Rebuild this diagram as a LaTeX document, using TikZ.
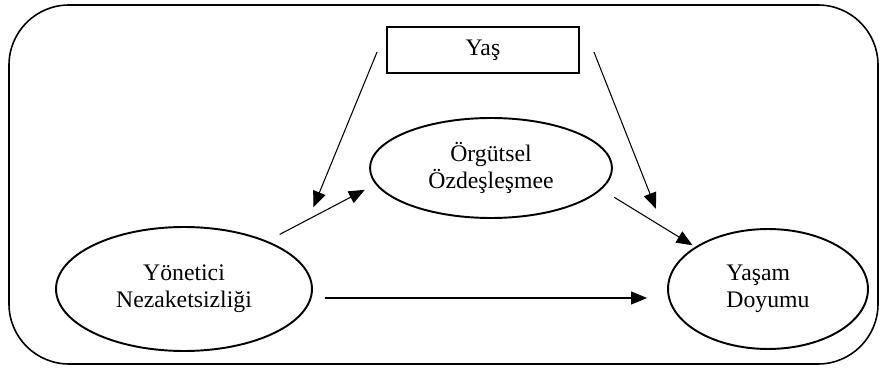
\documentclass[tikz,border=0pt]{standalone}
\usepackage{fontspec}
\setmainfont{Liberation Serif}
\usetikzlibrary{arrows.meta,positioning,shapes.geometric}

\begin{document}
\begin{tikzpicture}[x=0.02cm,y=0.02cm,
  latent/.style={ellipse,draw,line width=1.1pt,inner sep=0pt,align=center,font=\fontsize{13.5}{15.5}\selectfont},
  obsbox/.style={rectangle,draw,line width=1.1pt,inner sep=0pt,font=\fontsize{13.5}{15.5}\selectfont},
  arr/.style={-{Triangle[length=0.32cm,width=0.26cm]},line width=0.6pt}]
\useasboundingbox (0,0) rectangle (880,369);
% Outer frame
\draw[line width=0.9pt,rounded corners=1.2cm] (9,5) rectangle (878,364);
% Moderator
\node[obsbox,minimum width=3.84cm,minimum height=0.92cm] (yas) at (483,319) {Yaş};
% Latent variables
\node[latent,minimum width=4.84cm,minimum height=2.0cm] (orgut) at (491,201) {Örgütsel\\Özdeşleşmee};
\node[latent,minimum width=5.12cm,minimum height=2.48cm] (yonetici) at (184,80) {Yönetici\\Nezaketsizliği};
\node[latent,minimum width=4.0cm,minimum height=2.4cm,align=left] (yasam) at (768,80) {Yaşam\\Doyumu};
% Paths
\draw[arr,shorten <=0.28cm,shorten >=0.24cm] (yonetici.30) -- coordinate[pos=0.38] (mod1) (orgut.188);
\draw[arr,shorten <=0.3cm,shorten >=0.06cm] (orgut.-11) -- coordinate[pos=0.66] (mod2) (yasam.150);
\draw[arr,shorten <=0.24cm,shorten >=0.4cm] ([yshift=-0.18cm]yonetici.east) -- ([yshift=-0.18cm]yasam.west);
% Moderation arrows
\draw[arr,shorten >=0.26cm] ([xshift=-0.18cm,yshift=-0.04cm]yas.west) -- (mod1);
\draw[arr,shorten >=0.4cm] ([xshift=0.28cm,yshift=-0.04cm]yas.east) -- (mod2);
\end{tikzpicture}
\end{document}
